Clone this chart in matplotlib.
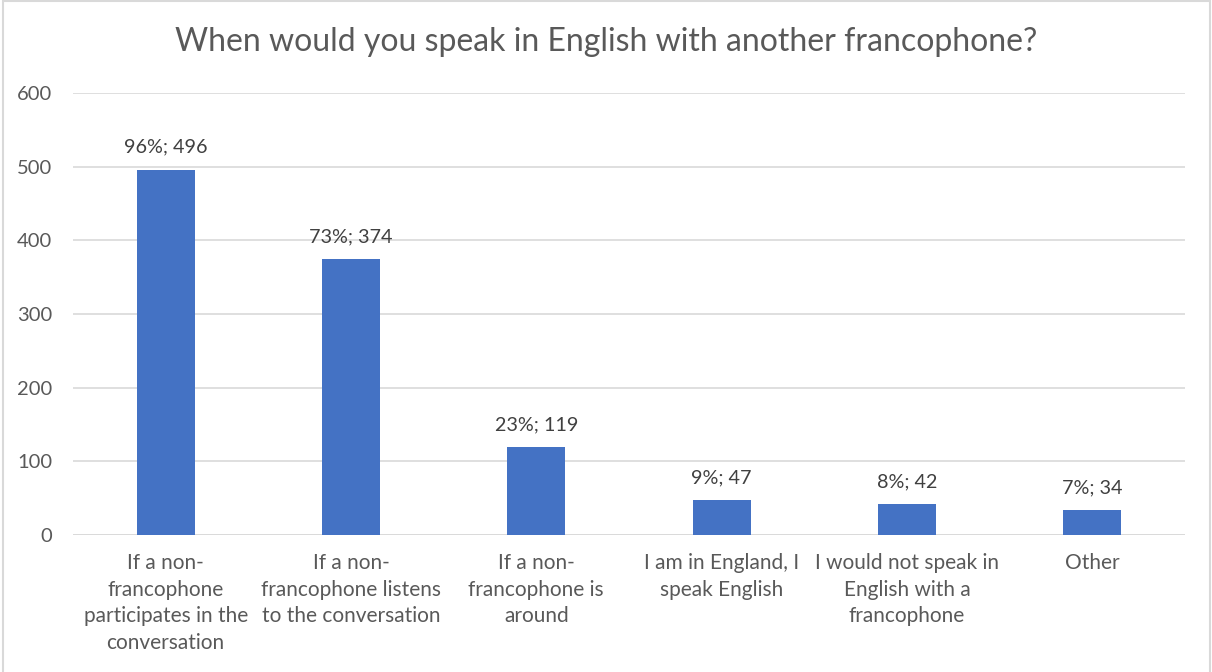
import matplotlib.pyplot as plt
from matplotlib.patches import Rectangle

# survey answers, counts and share of respondents
categories = [
    "If a non-\nfrancophone\nparticipates in the\nconversation",
    "If a non-\nfrancophone listens\nto the conversation",
    "If a non-\nfrancophone is\naround",
    "I am in England, I\nspeak English",
    "I would not speak in\nEnglish with a\nfrancophone",
    "Other",
]
counts = [496, 374, 119, 47, 42, 34]
percents = [96, 73, 23, 9, 8, 7]
yticks = [0, 100, 200, 300, 400, 500, 600]

BAR = "#4472C4"
GRID = "#D9D9D9"
TEXT = "#595959"

plt.rcParams['font.family'] = ['Lato', 'DejaVu Sans']

fig = plt.figure(figsize=(12.12, 6.72), dpi=100)
ax = fig.add_axes([0.0602, 0.2039, 0.9175, 0.6577])

x = range(len(categories))
ax.bar(x, counts, width=0.313, color=BAR, zorder=3)

for xi, n, p in zip(x, counts, percents):
    ax.annotate("%d%%; %d" % (p, n), (xi, n), xytext=(0, 10),
                textcoords="offset points", ha="center", va="bottom",
                fontsize=14.2, color="#404040")

ax.set_xlim(-0.5, len(categories) - 0.5)
ax.set_ylim(0, 600)
ax.set_yticks(yticks)
ax.set_xticks(list(x))
ax.set_xticklabels(categories, fontsize=15, color=TEXT, linespacing=1.42)
ax.tick_params(axis='y', labelsize=14.5, labelcolor=TEXT, length=0, pad=15)
ax.tick_params(axis='x', length=0, pad=13)
ax.yaxis.grid(True, color=GRID, linewidth=1.2, zorder=0)
for s in ax.spines.values():
    s.set_visible(False)
ax.axhline(0, color=GRID, linewidth=1.2, zorder=2)

fig.text(0.5, 0.937, "When would you speak in English with another francophone?",
         ha="center", va="center", fontsize=23, color=TEXT)

# light frame round the chart area
fig.patches.append(Rectangle((0.0025, -0.05), 0.9955, 1.048,
                             transform=fig.transFigure, fill=False,
                             edgecolor="#D9D9D9", linewidth=1.5))

fig.savefig("out.png", dpi=100)
